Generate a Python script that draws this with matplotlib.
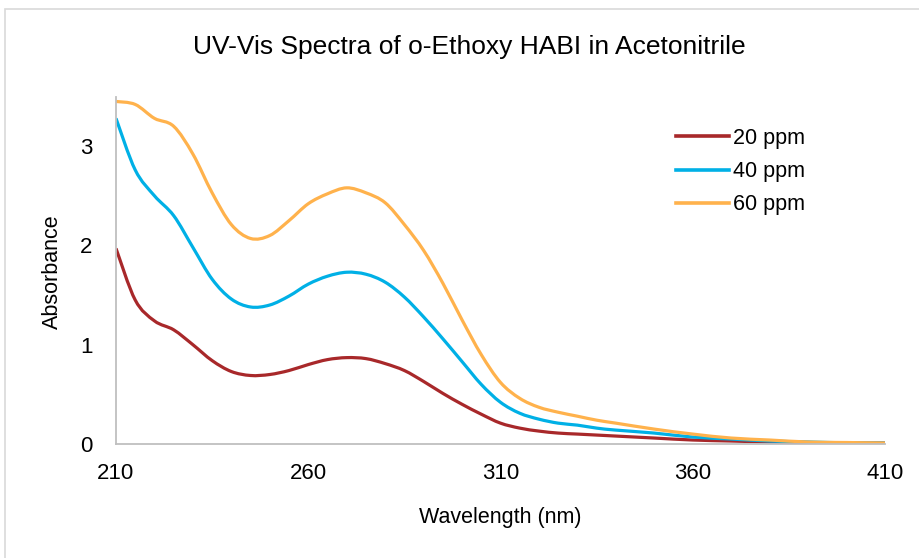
import matplotlib
matplotlib.use("Agg")
import matplotlib.pyplot as plt
from matplotlib.patches import Rectangle, PathPatch
from matplotlib.path import Path
from matplotlib.lines import Line2D

plt.rcParams['font.family'] = ['Liberation Sans', 'DejaVu Sans']
FS_TICK, FS_LAB, FS_TITLE = 16, 15.5, 19

wavelength = [210, 215, 220, 225, 230, 235, 240, 245, 250, 255, 260, 265, 270, 275,
              280, 285, 290, 295, 300, 305, 310, 315, 320, 325, 330, 335, 340, 350,
              360, 370, 380, 390, 400, 410]
abs_20ppm = [1.97, 1.45, 1.24, 1.15, 1.00, 0.84, 0.73, 0.69, 0.70, 0.74, 0.80, 0.85, 0.87, 0.86,
             0.81, 0.74, 0.63, 0.51, 0.40, 0.30, 0.21, 0.16, 0.13, 0.11, 0.10, 0.09, 0.08, 0.06,
             0.04, 0.03, 0.02, 0.015, 0.01, 0.01]
abs_40ppm = [3.28, 2.76, 2.50, 2.30, 1.98, 1.66, 1.46, 1.38, 1.40, 1.49, 1.61, 1.69, 1.73, 1.71,
             1.63, 1.48, 1.28, 1.06, 0.83, 0.60, 0.42, 0.31, 0.25, 0.21, 0.19, 0.16, 0.14, 0.11,
             0.07, 0.05, 0.03, 0.02, 0.012, 0.01]
abs_60ppm = [3.45, 3.42, 3.28, 3.20, 2.92, 2.53, 2.21, 2.07, 2.10, 2.25, 2.42, 2.52, 2.58, 2.53,
             2.43, 2.21, 1.95, 1.62, 1.25, 0.90, 0.62, 0.46, 0.37, 0.32, 0.28, 0.24, 0.21, 0.15,
             0.10, 0.06, 0.04, 0.02, 0.015, 0.01]
series_labels = ['20 ppm', '40 ppm', '60 ppm']
series_colors = ['#A8282A', '#00B0E6', '#FFB24C']
x_ticks = [210, 260, 310, 360, 410]
y_ticks = [0, 1, 2, 3]

W, H = 919, 558
fig = plt.figure(figsize=(W / 100, H / 100), dpi=100)
fig.patch.set_facecolor('white')

fig.patches.append(Rectangle((5 / W, -0.05), 1.2, (H - 9) / H + 0.05,
                             transform=fig.transFigure, fill=False,
                             edgecolor='#D9D9D9', linewidth=1.2))

ax = fig.add_axes([116 / W, (H - 444) / H, 769 / W, 347.5 / H])


def smooth_path(xs, ys):
    """Excel-like smoothed line: cubic Bezier through the data points."""
    n = len(xs)
    verts = [(xs[0], ys[0])]
    codes = [Path.MOVETO]
    for i in range(n - 1):
        x0, y0 = (xs[i - 1], ys[i - 1]) if i > 0 else (xs[i], ys[i])
        x1, y1 = xs[i], ys[i]
        x2, y2 = xs[i + 1], ys[i + 1]
        x3, y3 = (xs[i + 2], ys[i + 2]) if i + 2 < n else (xs[i + 1], ys[i + 1])
        c1 = (x1 + (x2 - x0) / 6, y1 + (y2 - y0) / 6)
        c2 = (x2 - (x3 - x1) / 6, y2 - (y3 - y1) / 6)
        verts += [c1, c2, (x2, y2)]
        codes += [Path.CURVE4] * 3
    return Path(verts, codes)


handles = []
for ys, lab, col in zip([abs_20ppm, abs_40ppm, abs_60ppm], series_labels, series_colors):
    ax.add_patch(PathPatch(smooth_path(wavelength, ys), fill=False, edgecolor=col,
                           linewidth=2.3, joinstyle='round', capstyle='butt'))
    handles.append(Line2D([], [], color=col, linewidth=2.6, label=lab))

ax.set_xlim(210, 410)
ax.set_ylim(0, 3.5)
ax.set_xticks(x_ticks)
ax.set_yticks(y_ticks)
ax.tick_params(axis='both', length=0, labelsize=FS_TICK)
ax.tick_params(axis='x', pad=14)
ax.tick_params(axis='y', pad=17)
for s in ['top', 'right']:
    ax.spines[s].set_visible(False)
for s in ['left', 'bottom']:
    ax.spines[s].set_color('#BFBFBF')
    ax.spines[s].set_linewidth(1.3)

fig.text(52 / W, 1 - 272 / H, 'Absorbance', rotation=90, ha='center', va='center', fontsize=FS_LAB)
fig.text(500 / W, 1 - 518 / H, 'Wavelength (nm)', ha='center', va='center', fontsize=FS_LAB)
fig.text(469 / W, 1 - 47 / H, 'UV-Vis Spectra of o-Ethoxy HABI in Acetonitrile',
         ha='center', va='center', fontsize=FS_TITLE)

leg = ax.legend(handles=handles, loc='upper left', bbox_to_anchor=(676 / W, 1 - 128 / H),
                bbox_transform=fig.transFigure, frameon=False, fontsize=FS_LAB,
                handlelength=2.45, handletextpad=0.2, labelspacing=0.56,
                borderpad=0, borderaxespad=0)

fig.savefig('out.png', dpi=100, facecolor='white')
